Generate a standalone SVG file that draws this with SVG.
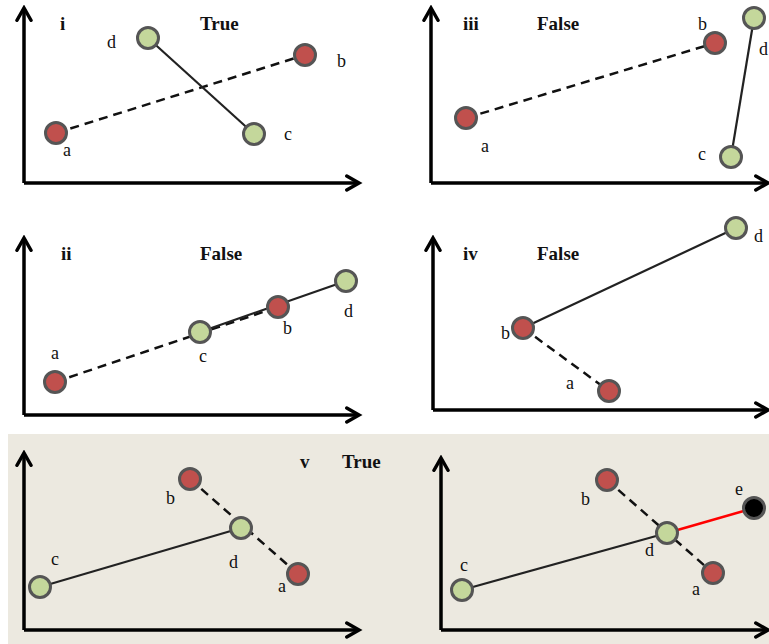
<svg xmlns="http://www.w3.org/2000/svg" width="769" height="644" viewBox="0 0 769 644">
<defs>
<marker id="arr" viewBox="0 0 10 10" refX="8" refY="5" markerWidth="5" markerHeight="5" orient="auto" markerUnits="strokeWidth">
<path d="M1,1 L8,5 L1,9" fill="none" stroke="#000" stroke-width="2" stroke-linecap="round" stroke-linejoin="miter"/>
</marker>
<style>
.ax{fill:none;stroke:#000;stroke-width:3.5;marker-end:url(#arr)}
.sol{stroke:#222;stroke-width:2.2;fill:none}
.dash{stroke:#111;stroke-width:2.5;stroke-dasharray:9,6;fill:none}
.red{fill:#C0504D;stroke:#555;stroke-width:3}
.grn{fill:#C4D79B;stroke:#555;stroke-width:3}
.blk{fill:#000;stroke:#555;stroke-width:3}
.lb{font-family:"Liberation Serif",serif;font-size:18px;fill:#111}
.tt{font-family:"Liberation Serif",serif;font-size:19px;font-weight:bold;fill:#111}
</style>
</defs>
<rect x="0" y="0" width="769" height="644" fill="#fff"/>
<rect x="8" y="434" width="761" height="210" fill="#ECE9E0"/>

<g id="axes">
<polyline class="ax" points="24,183 24,8"/>
<polyline class="ax" points="24,183 359,183"/>
<polyline class="ax" points="431,183 431,8"/>
<polyline class="ax" points="431,183 768,183"/>
<polyline class="ax" points="24,415 24,238"/>
<polyline class="ax" points="24,415 359,415"/>
<polyline class="ax" points="433,410 433,238"/>
<polyline class="ax" points="433,410 768,410"/>
<polyline class="ax" points="24,630 24,453"/>
<polyline class="ax" points="24,630 359,630"/>
<polyline class="ax" points="441,630 441,458"/>
<polyline class="ax" points="441,630 768,630"/>
</g>

<g id="connectors">
<line class="dash" x1="56" y1="133" x2="305" y2="55"/>
<line class="sol" x1="148" y1="38" x2="254" y2="134"/>
<line class="dash" x1="466" y1="118" x2="715" y2="43"/>
<line class="sol" x1="754" y1="18" x2="731" y2="157"/>
<line class="dash" x1="55" y1="382" x2="278" y2="307"/>
<line class="sol" x1="200" y1="332" x2="346" y2="281"/>
<line class="sol" x1="523" y1="328" x2="736" y2="228"/>
<line class="dash" x1="523" y1="328" x2="609" y2="391"/>
<line class="dash" x1="190" y1="479" x2="298" y2="574"/>
<line class="sol" x1="40" y1="587" x2="241" y2="528"/>
<line class="dash" x1="607" y1="480" x2="713" y2="573"/>
<line class="sol" x1="462" y1="590" x2="667" y2="533"/>
<line x1="667" y1="533" x2="754" y2="508" stroke="#FF0000" stroke-width="2.5"/>
</g>

<g id="panel-i">
<text class="tt" x="60" y="30">i</text>
<text class="tt" x="200" y="30">True</text>
<g id="i-d"><circle class="grn" cx="148" cy="38" r="10.5"/><text class="lb" x="107" y="48">d</text></g>
<g id="i-b"><circle class="red" cx="305" cy="55" r="10.5"/><text class="lb" x="337" y="67">b</text></g>
<g id="i-a"><circle class="red" cx="56" cy="133" r="10.5"/><text class="lb" x="63" y="156">a</text></g>
<g id="i-c"><circle class="grn" cx="254" cy="134" r="10.5"/><text class="lb" x="284" y="140">c</text></g>
</g>

<g id="panel-iii">
<text class="tt" x="463" y="30">iii</text>
<text class="tt" x="537" y="30">False</text>
<g id="iii-b"><circle class="red" cx="715" cy="43" r="10.5"/><text class="lb" x="698" y="30">b</text></g>
<g id="iii-d"><circle class="grn" cx="754" cy="18" r="10.5"/><text class="lb" x="759" y="55">d</text></g>
<g id="iii-a"><circle class="red" cx="466" cy="118" r="10.5"/><text class="lb" x="481" y="152">a</text></g>
<g id="iii-c"><circle class="grn" cx="731" cy="157" r="10.5"/><text class="lb" x="698" y="160">c</text></g>
</g>

<g id="panel-ii">
<text class="tt" x="61" y="260">ii</text>
<text class="tt" x="200" y="260">False</text>
<g id="ii-a"><circle class="red" cx="55" cy="382" r="10.5"/><text class="lb" x="51" y="359">a</text></g>
<g id="ii-c"><circle class="grn" cx="200" cy="332" r="10.5"/><text class="lb" x="199" y="362">c</text></g>
<g id="ii-b"><circle class="red" cx="278" cy="307" r="10.5"/><text class="lb" x="283" y="334">b</text></g>
<g id="ii-d"><circle class="grn" cx="346" cy="281" r="10.5"/><text class="lb" x="344" y="317">d</text></g>
</g>

<g id="panel-iv">
<text class="tt" x="463" y="260">iv</text>
<text class="tt" x="537" y="260">False</text>
<g id="iv-d"><circle class="grn" cx="736" cy="228" r="10.5"/><text class="lb" x="754" y="242">d</text></g>
<g id="iv-b"><circle class="red" cx="523" cy="328" r="10.5"/><text class="lb" x="501" y="339">b</text></g>
<g id="iv-a"><circle class="red" cx="609" cy="391" r="10.5"/><text class="lb" x="566" y="389">a</text></g>
</g>

<g id="panel-v">
<text class="tt" x="300" y="468">v</text>
<text class="tt" x="342" y="468">True</text>
<g id="v-b"><circle class="red" cx="190" cy="479" r="10.5"/><text class="lb" x="166" y="504">b</text></g>
<g id="v-d"><circle class="grn" cx="241" cy="528" r="10.5"/><text class="lb" x="229" y="568">d</text></g>
<g id="v-a"><circle class="red" cx="298" cy="574" r="10.5"/><text class="lb" x="278" y="592">a</text></g>
<g id="v-c"><circle class="grn" cx="40" cy="587" r="10.5"/><text class="lb" x="51" y="565">c</text></g>
</g>

<g id="panel-vi">
<g id="vi-b"><circle class="red" cx="607" cy="480" r="10.5"/><text class="lb" x="581" y="505">b</text></g>
<g id="vi-e"><circle class="blk" cx="754" cy="508" r="10.5"/><text class="lb" x="735" y="495">e</text></g>
<g id="vi-d"><circle class="grn" cx="667" cy="533" r="10.5"/><text class="lb" x="645" y="556">d</text></g>
<g id="vi-a"><circle class="red" cx="713" cy="573" r="10.5"/><text class="lb" x="692" y="595">a</text></g>
<g id="vi-c"><circle class="grn" cx="462" cy="590" r="10.5"/><text class="lb" x="460" y="571">c</text></g>
</g>
</svg>
